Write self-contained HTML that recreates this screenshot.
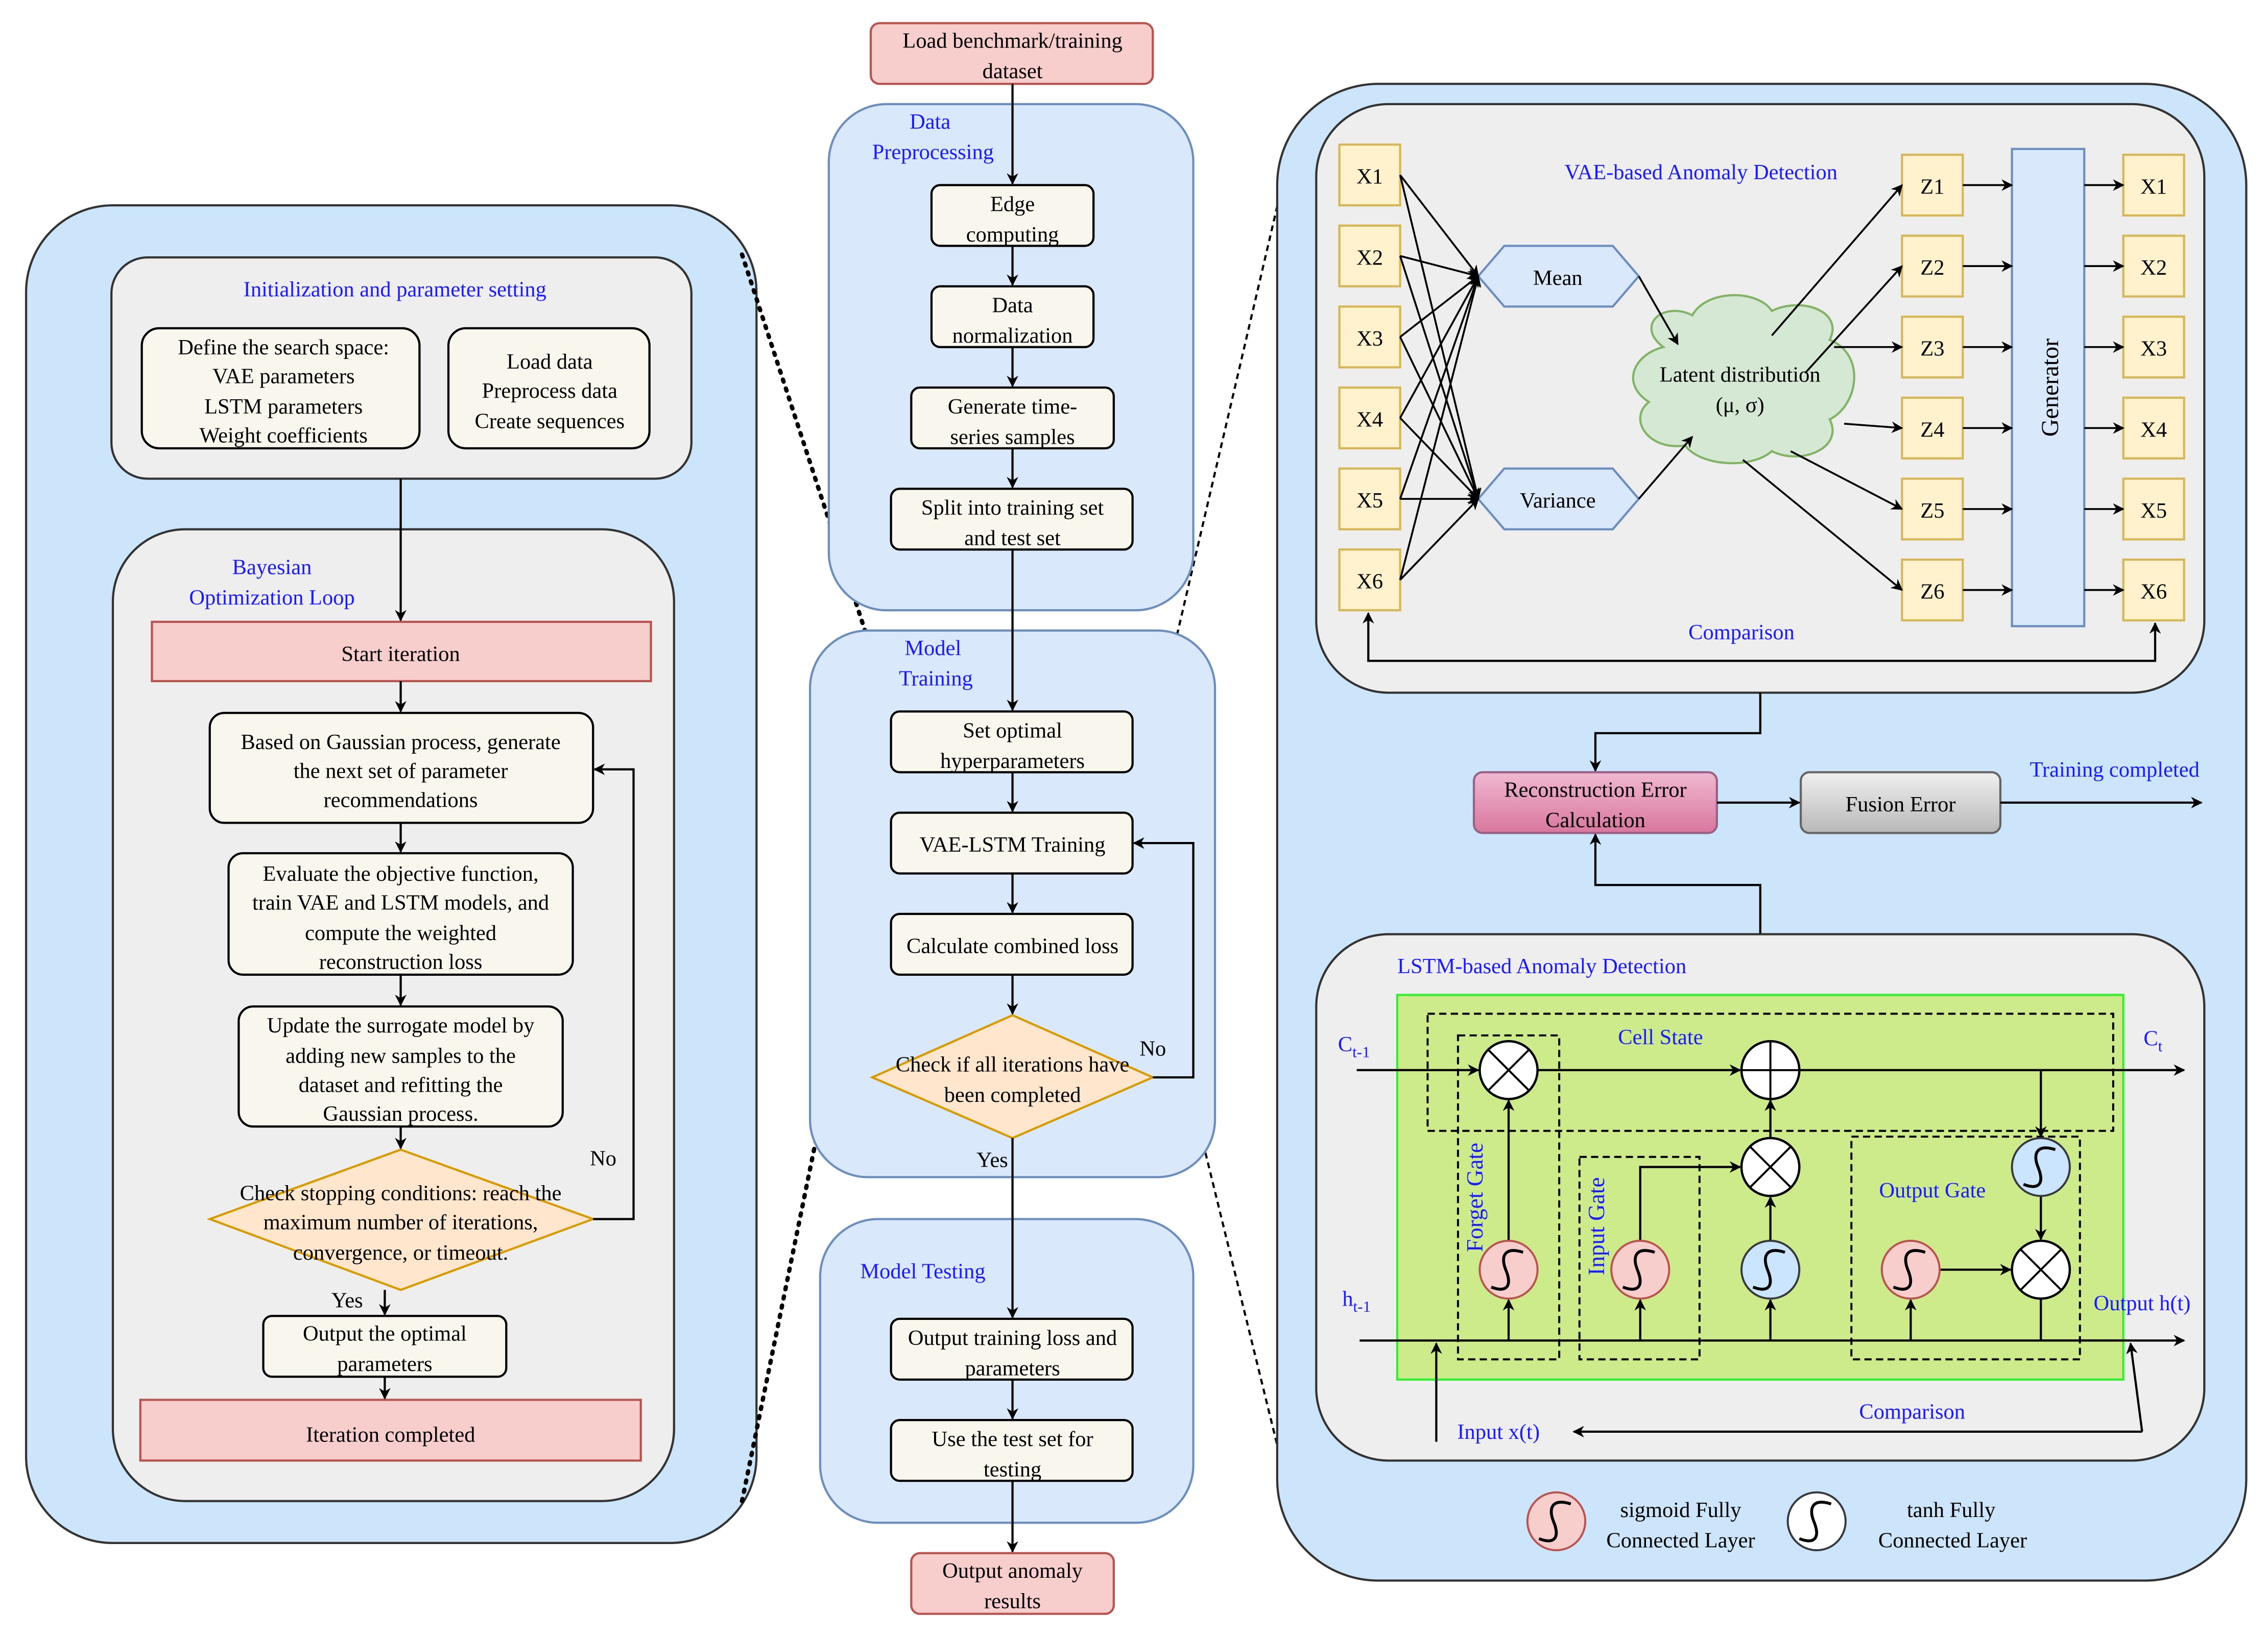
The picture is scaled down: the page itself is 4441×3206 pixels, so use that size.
<!DOCTYPE html>
<html><head><meta charset="utf-8"><style>html,body{margin:0;padding:0;background:#fff}svg{display:block}</style></head><body>
<svg width="4441" height="3206" viewBox="0 0 1568 1132" xmlns="http://www.w3.org/2000/svg" font-family="Liberation Serif, serif" font-size="15">
<defs>
<marker id="a" viewBox="0 0 10 10" refX="9" refY="5" markerWidth="8" markerHeight="8" orient="auto-start-reverse" markerUnits="userSpaceOnUse"><path d="M0,0 L10,5 L0,10 L3,5z" fill="#000"/></marker>
<linearGradient id="pg" x1="0" y1="0" x2="0" y2="1"><stop offset="0" stop-color="#f0b8d0"/><stop offset="1" stop-color="#d9779f"/></linearGradient>
<linearGradient id="gg" x1="0" y1="0" x2="0" y2="1"><stop offset="0" stop-color="#f0f0f0"/><stop offset="1" stop-color="#b8b8b8"/></linearGradient>
<g id="sx"><circle r="20" fill="#fff" stroke="#000" stroke-width="1.6"/><path d="M-14,-14L14,14M14,-14L-14,14" stroke="#000" stroke-width="1.4"/></g>
<g id="sp"><circle r="20" fill="#fff" stroke="#000" stroke-width="1.6"/><path d="M-20,0H20M0,-20V20" stroke="#000" stroke-width="1.4"/></g>
<g id="sg"><circle r="20" fill="#f8cecc" stroke="#b85450" stroke-width="1.4"/><path d="M10,-12C-2,-16 -6,-10 -2,0 C3,12 -2,16 -12,12" fill="none" stroke="#000" stroke-width="2"/></g>
<g id="st"><circle r="20" fill="#cce5ff" stroke="#36393d" stroke-width="1.4"/><path d="M10,-12C-2,-16 -6,-10 -2,0 C3,12 -2,16 -12,12" fill="none" stroke="#000" stroke-width="2"/></g>
</defs>
<g stroke="#000" stroke-width="1.5" fill="none">
<!-- LEFT -->
<rect x="18" y="142" width="505" height="925" rx="60" fill="#cce5fb" stroke="#333"/>
<rect x="77" y="178" width="401" height="153" rx="25" fill="#eeeeee" stroke="#333"/>
<rect x="98" y="227" width="192" height="83" rx="12" fill="#f9f7ed"/>
<rect x="310" y="227" width="139" height="83" rx="12" fill="#f9f7ed"/>
<rect x="78" y="366" width="388" height="672" rx="50" fill="#eeeeee" stroke="#333"/>
<rect x="105" y="430" width="345" height="41" fill="#f8cecc" stroke="#b85450"/>
<rect x="145" y="493" width="265" height="76" rx="10" fill="#f9f7ed"/>
<rect x="158" y="590" width="238" height="84" rx="10" fill="#f9f7ed"/>
<rect x="165" y="696" width="224" height="83" rx="10" fill="#f9f7ed"/>
<path d="M277,795L410,843L277,892L145,843Z" fill="#ffe6cc" stroke="#d79b00"/>
<rect x="182" y="910" width="168" height="42" rx="6" fill="#f9f7ed"/>
<rect x="97" y="968" width="346" height="42" fill="#f8cecc" stroke="#b85450"/>
<g marker-end="url(#a)">
<path d="M277,331V429"/><path d="M277,471V492"/><path d="M277,569V589"/><path d="M277,674V695"/><path d="M277,779V794"/><path d="M266,892V909"/><path d="M266,952V967"/><path d="M410,843H438V532H411"/>
</g>
<path d="M513,176L615,488M513,1038L615,540" stroke-dasharray="1.5 5" stroke-linecap="round" stroke-width="3"/>
<path d="M785,562L893,100M785,600L893,1040" stroke-dasharray="4 3"/>
<!-- CENTER -->
<rect x="573" y="72" width="252" height="350" rx="40" fill="#dae8fc" stroke="#6c8ebf"/>
<rect x="560" y="436" width="280" height="378" rx="40" fill="#dae8fc" stroke="#6c8ebf"/>
<rect x="567" y="843" width="258" height="210" rx="40" fill="#dae8fc" stroke="#6c8ebf"/>
<rect x="602" y="16" width="195" height="42" rx="6" fill="#f8cecc" stroke="#b85450"/>
<rect x="644" y="128" width="112" height="42" rx="6" fill="#f9f7ed"/>
<rect x="644" y="198" width="112" height="42" rx="6" fill="#f9f7ed"/>
<rect x="630" y="268" width="140" height="42" rx="6" fill="#f9f7ed"/>
<rect x="616" y="338" width="167" height="42" rx="6" fill="#f9f7ed"/>
<rect x="616" y="492" width="167" height="42" rx="6" fill="#f9f7ed"/>
<rect x="616" y="562" width="167" height="42" rx="6" fill="#f9f7ed"/>
<rect x="616" y="632" width="167" height="42" rx="6" fill="#f9f7ed"/>
<path d="M700,702L797,745L700,787L603,745Z" fill="#ffe6cc" stroke="#d79b00"/>
<rect x="616" y="912" width="167" height="42" rx="6" fill="#f9f7ed"/>
<rect x="616" y="982" width="167" height="42" rx="6" fill="#f9f7ed"/>
<rect x="630" y="1074" width="140" height="42" rx="6" fill="#f8cecc" stroke="#b85450"/>
<g marker-end="url(#a)">
<path d="M700,58V127"/><path d="M700,170V197"/><path d="M700,240V267"/><path d="M700,310V337"/><path d="M700,380V491"/><path d="M700,534V561"/><path d="M700,604V631"/><path d="M700,674V701"/><path d="M700,787V911"/><path d="M700,954V981"/><path d="M700,1024V1073"/><path d="M797,745H825V583H784"/>
</g>
<!-- RIGHT -->
<rect x="883" y="58" width="670" height="1035" rx="70" fill="#cce5fb" stroke="#333"/>
<rect x="910" y="72" width="614" height="407" rx="50" fill="#eeeeee" stroke="#333"/>
<g fill="#fff2cc" stroke="#d6b656">
<rect x="926" y="100" width="42" height="42"/><rect x="926" y="156" width="42" height="42"/><rect x="926" y="212" width="42" height="42"/><rect x="926" y="268" width="42" height="42"/><rect x="926" y="324" width="42" height="42"/><rect x="926" y="380" width="42" height="42"/>
<rect x="1315" y="107" width="42" height="42"/><rect x="1315" y="163" width="42" height="42"/><rect x="1315" y="219" width="42" height="42"/><rect x="1315" y="275" width="42" height="42"/><rect x="1315" y="331" width="42" height="42"/><rect x="1315" y="387" width="42" height="42"/>
<rect x="1468" y="107" width="42" height="42"/><rect x="1468" y="163" width="42" height="42"/><rect x="1468" y="219" width="42" height="42"/><rect x="1468" y="275" width="42" height="42"/><rect x="1468" y="331" width="42" height="42"/><rect x="1468" y="387" width="42" height="42"/>
</g>
<path d="M1022,191L1040,170H1115L1133,191L1115,212H1040Z" fill="#dae8fc" stroke="#6c8ebf"/>
<path d="M1022,345L1040,324H1115L1133,345L1115,366H1040Z" fill="#dae8fc" stroke="#6c8ebf"/>
<path d="M1150,240C1130,225 1150,208 1170,218 C1180,200 1215,200 1225,215 C1245,205 1275,215 1265,235 C1290,245 1285,280 1265,290 C1275,310 1245,322 1225,312 C1210,325 1175,322 1165,308 C1140,312 1125,290 1140,278 C1120,265 1130,245 1150,240Z" fill="#d5e8d4" stroke="#82b366"/>
<rect x="1391" y="103" width="50" height="330" fill="#dae8fc" stroke="#6c8ebf"/>
<g marker-end="url(#a)" stroke-width="1.3">
<path d="M968,121L1022,191"/><path d="M968,177L1022,191"/><path d="M968,233L1022,191"/><path d="M968,289L1022,191"/><path d="M968,345L1022,191"/><path d="M968,401L1022,191"/>
<path d="M968,121L1022,345"/><path d="M968,177L1022,345"/><path d="M968,233L1022,345"/><path d="M968,289L1022,345"/><path d="M968,345L1022,345"/><path d="M968,401L1022,345"/>
<path d="M1133,191L1160,238"/><path d="M1133,345L1170,302"/>
<path d="M1225,232L1315,128"/><path d="M1248,258L1315,184"/><path d="M1268,240H1315"/><path d="M1275,293L1315,296"/><path d="M1238,312L1315,352"/><path d="M1205,318L1315,408"/>
<path d="M1357,128H1391"/><path d="M1357,184H1391"/><path d="M1357,240H1391"/><path d="M1357,296H1391"/><path d="M1357,352H1391"/><path d="M1357,408H1391"/>
<path d="M1441,128H1468"/><path d="M1441,184H1468"/><path d="M1441,240H1468"/><path d="M1441,296H1468"/><path d="M1441,352H1468"/><path d="M1441,408H1468"/>
</g>
<path d="M946,424V457H1490V431" marker-start="url(#a)" marker-end="url(#a)"/>
<path d="M1217,479V507H1103V533" marker-end="url(#a)"/>
<path d="M1217,646V612H1103V577" marker-end="url(#a)"/>
<rect x="1019" y="534" width="168" height="42" rx="6" fill="url(#pg)" stroke="#996185"/>
<rect x="1245" y="534" width="138" height="42" rx="6" fill="url(#gg)" stroke="#666"/>
<path d="M1187,555H1244" marker-end="url(#a)"/><path d="M1383,555H1522" marker-end="url(#a)"/>
<rect x="910" y="646" width="614" height="364" rx="50" fill="#eeeeee" stroke="#333"/>
<rect x="966" y="688" width="502" height="266" fill="#cdeb8b" stroke="#33ee33"/>
<g stroke-dasharray="5 3" stroke-width="1.4">
<rect x="987" y="701" width="474" height="81"/>
<rect x="1008" y="716" width="70" height="224"/>
<rect x="1092" y="800" width="83" height="140"/>
<rect x="1280" y="786" width="158" height="154"/>
</g>
<g marker-end="url(#a)">
<path d="M938,740H1022"/><path d="M1063,740H1203"/><path d="M1244,740H1510"/><path d="M1411,740V786"/>
<path d="M940,927H1510"/><path d="M1043,927V899"/><path d="M1134,927V899"/><path d="M1224,927V899"/><path d="M1321,927V899"/>
<path d="M1043,858V761"/><path d="M1134,858V807H1203"/><path d="M1224,858V828"/><path d="M1224,787V761"/><path d="M1341,878H1390"/><path d="M1411,827V857"/>
<path d="M993,997V929"/><path d="M1481,990L1473,929"/><path d="M1481,990H1088"/>
</g>
<path d="M1411,898V927H1473"/>
</g>
<use href="#sx" x="1043" y="740"/><use href="#sp" x="1224" y="740"/><use href="#sx" x="1224" y="807"/><use href="#st" x="1224" y="878"/>
<use href="#st" x="1411" y="807"/><use href="#sx" x="1411" y="878"/>
<use href="#sg" x="1043" y="878"/><use href="#sg" x="1134" y="878"/><use href="#sg" x="1321" y="878"/>
<use href="#sg" x="1076" y="1052"/>
<g transform="translate(1256,1052)"><circle r="20" fill="#fff" stroke="#36393d" stroke-width="1.4"/><path d="M10,-12C-2,-16 -6,-10 -2,0 C3,12 -2,16 -12,12" fill="none" stroke="#000" stroke-width="2"/></g>
<!-- TEXT -->
<g text-anchor="middle" fill="#000">
<text x="196" y="245">Define the search space:</text><text x="196" y="265">VAE parameters</text><text x="196" y="286">LSTM parameters</text><text x="196" y="306">Weight coefficients</text>
<text x="380" y="255">Load data</text><text x="380" y="275">Preprocess data</text><text x="380" y="296">Create sequences</text>
<text x="277" y="457">Start iteration</text>
<text x="277" y="518">Based on Gaussian process, generate</text><text x="277" y="538">the next set of parameter</text><text x="277" y="558">recommendations</text>
<text x="277" y="609">Evaluate the objective function,</text><text x="277" y="629">train VAE and LSTM models, and</text><text x="277" y="650">compute the weighted</text><text x="277" y="670">reconstruction loss</text>
<text x="277" y="714">Update the surrogate model by</text><text x="277" y="735">adding new samples to the</text><text x="277" y="755">dataset and refitting the</text><text x="277" y="775">Gaussian process.</text>
<text x="277" y="830">Check stopping conditions: reach the</text><text x="277" y="850">maximum number of iterations,</text><text x="277" y="871">convergence, or timeout.</text>
<text x="417" y="806">No</text><text x="240" y="904">Yes</text>
<text x="266" y="927">Output the optimal</text><text x="266" y="948">parameters</text>
<text x="270" y="997">Iteration completed</text>
<text x="700" y="33">Load benchmark/training</text><text x="700" y="54">dataset</text>
<text x="700" y="146">Edge</text><text x="700" y="167">computing</text>
<text x="700" y="216">Data</text><text x="700" y="237">normalization</text>
<text x="700" y="286">Generate time-</text><text x="700" y="307">series samples</text>
<text x="700" y="356">Split into training set</text><text x="700" y="377">and test set</text>
<text x="700" y="510">Set optimal</text><text x="700" y="531">hyperparameters</text>
<text x="700" y="589">VAE-LSTM Training</text>
<text x="700" y="659">Calculate combined loss</text>
<text x="700" y="741">Check if all iterations have</text><text x="700" y="762">been completed</text>
<text x="797" y="730">No</text><text x="686" y="807">Yes</text>
<text x="700" y="930">Output training loss and</text><text x="700" y="951">parameters</text>
<text x="700" y="1000">Use the test set for</text><text x="700" y="1021">testing</text>
<text x="700" y="1091">Output anomaly</text><text x="700" y="1112">results</text>
<text x="947" y="127">X1</text><text x="947" y="183">X2</text><text x="947" y="239">X3</text><text x="947" y="295">X4</text><text x="947" y="351">X5</text><text x="947" y="407">X6</text>
<text x="1336" y="134">Z1</text><text x="1336" y="190">Z2</text><text x="1336" y="246">Z3</text><text x="1336" y="302">Z4</text><text x="1336" y="358">Z5</text><text x="1336" y="414">Z6</text>
<text x="1489" y="134">X1</text><text x="1489" y="190">X2</text><text x="1489" y="246">X3</text><text x="1489" y="302">X4</text><text x="1489" y="358">X5</text><text x="1489" y="414">X6</text>
<text x="1077" y="197">Mean</text><text x="1077" y="351">Variance</text>
<text x="1203" y="264">Latent distribution</text><text x="1203" y="285">(μ, σ)</text>
<text transform="translate(1423,268) rotate(-90)" font-size="17">Generator</text>
<text x="1103" y="551">Reconstruction Error</text><text x="1103" y="572">Calculation</text>
<text x="1314" y="561">Fusion Error</text>
<text x="1162" y="1049">sigmoid Fully</text><text x="1162" y="1070">Connected Layer</text>
<text x="1349" y="1049">tanh Fully</text><text x="1350" y="1070">Connected Layer</text>
</g>
<g text-anchor="middle" fill="#1a1aff">
<text x="273" y="205">Initialization and parameter setting</text>
<text x="188" y="397">Bayesian</text><text x="188" y="418">Optimization Loop</text>
<text x="643" y="89">Data</text><text x="645" y="110">Preprocessing</text>
<text x="645" y="453">Model</text><text x="647" y="474">Training</text>
<text x="638" y="884">Model Testing</text>
<text x="1176" y="124">VAE-based Anomaly Detection</text>
<text x="1204" y="442">Comparison</text>
<text x="1462" y="537">Training completed</text>
<text x="1066" y="673">LSTM-based Anomaly Detection</text>
<text x="1148" y="722">Cell State</text>
<text x="1336" y="828">Output Gate</text>
<text x="1322" y="981">Comparison</text>
<text x="1036" y="995">Input x(t)</text>
<text x="1481" y="906">Output h(t)</text>
<text transform="translate(1025,828) rotate(-90)" font-size="16">Forget Gate</text>
<text transform="translate(1109,848) rotate(-90)" font-size="16">Input Gate</text>
</g>
<g fill="#1a1aff">
<text x="925" y="727">C<tspan font-size="11" dy="4">t-1</tspan></text>
<text x="1482" y="723">C<tspan font-size="11" dy="4">t</tspan></text>
<text x="928" y="903">h<tspan font-size="11" dy="4">t-1</tspan></text>
</g>
</svg>
</body></html>
